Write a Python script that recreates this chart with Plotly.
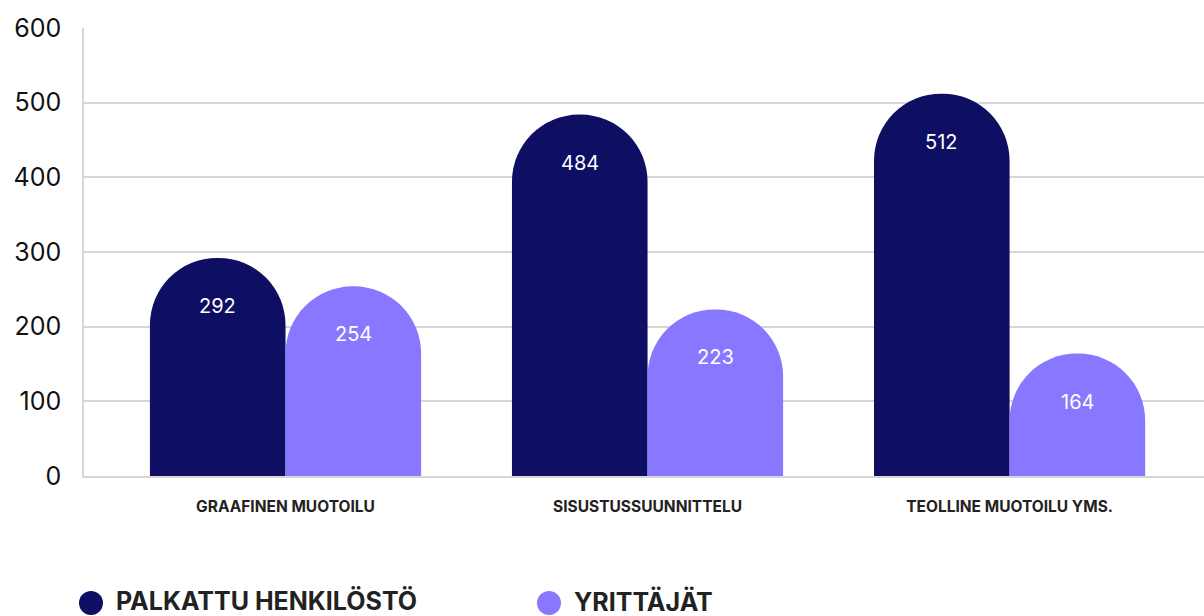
import plotly.graph_objects as go

categories = ["GRAAFINEN MUOTOILU", "SISUSTUSSUUNNITTELU", "TEOLLINE MUOTOILU YMS."]
palkattu = [292, 484, 512]
yrittajat = [254, 223, 164]
series_names = ["PALKATTU HENKILÖSTÖ", "YRITTÄJÄT"]
y_ticks = [0, 100, 200, 300, 400, 500, 600]

DARK = "#0E0E63"
LIGHT = "#8878FF"
FONT = "Inter"

fig = go.Figure()
colors = [DARK, LIGHT]
for vals, col, name in zip([palkattu, yrittajat], colors, series_names):
    fig.add_trace(go.Bar(
        x=categories, y=vals, name=name,
        marker=dict(color=col, cornerradius="50%", line=dict(width=0)),
        showlegend=False, hoverinfo="skip",
    ))

# value labels inside the rounded tops
half_bar_px = 67.75
for vals, sign in [(palkattu, -1), (yrittajat, 1)]:
    for cat, v in zip(categories, vals):
        fig.add_annotation(
            x=cat, y=v, xref="x", yref="y", text=str(v), showarrow=False,
            xshift=sign * half_bar_px, yshift=-48, yanchor="middle",
            font=dict(family=FONT, size=20, color="white"),
        )

# custom legend (large round markers)
legend_x = [91, 549]
for name, col, lx in zip(series_names, colors, legend_x):
    fig.add_shape(type="circle", xref="paper", yref="paper",
                  x0=(lx - 12 - 84) / 1120, x1=(lx + 12 - 84) / 1120,
                  y0=(476 - 615) / 448, y1=(476 - 591) / 448,
                  fillcolor=col, line=dict(width=0), layer="above")
    fig.add_annotation(x=(lx + 23 - 84) / 1120, y=(476 - 601) / 448, xref="paper", yref="paper",
                       text="<b>" + name + "</b>", showarrow=False, xanchor="left", yanchor="middle",
                       font=dict(family=FONT, size=25, color="#222222"))

fig.update_layout(
    width=1204, height=616,
    margin=dict(l=84, r=0, t=28, b=140, autoexpand=False),
    paper_bgcolor="white", plot_bgcolor="white",
    barmode="group", bargap=0.251, bargroupgap=0,
    font=dict(family=FONT, color="#222222"),
    showlegend=False,
)
fig.update_xaxes(
    range=[-0.5566, 2.537], showgrid=False, showline=True, linecolor="#d6d6d6", linewidth=1.5,
    tickfont=dict(family=FONT, size=15.5, color="#222222", weight="bold"), ticks="",
    ticklabelstandoff=16, automargin=False, fixedrange=True,
)
fig.update_yaxes(
    range=[0, 600], tickvals=y_ticks, showgrid=True, gridcolor="#d6d6d6", gridwidth=1.5,
    showline=True, linecolor="#d6d6d6", linewidth=1.5, zeroline=False,
    tickfont=dict(family=FONT, size=25, color="#111111"), ticks="", ticklabelstandoff=16,
    automargin=False,
)
fig.write_html("out.html", config={"displayModeBar": False})

# remove the default page margin so the figure sits at the window's top-left corner
with open("out.html", "r", encoding="utf-8") as f:
    html = f.read()
html = html.replace("<head>", "<head><style>html,body{margin:0;padding:0;overflow:hidden;}</style>", 1)
with open("out.html", "w", encoding="utf-8") as f:
    f.write(html)
